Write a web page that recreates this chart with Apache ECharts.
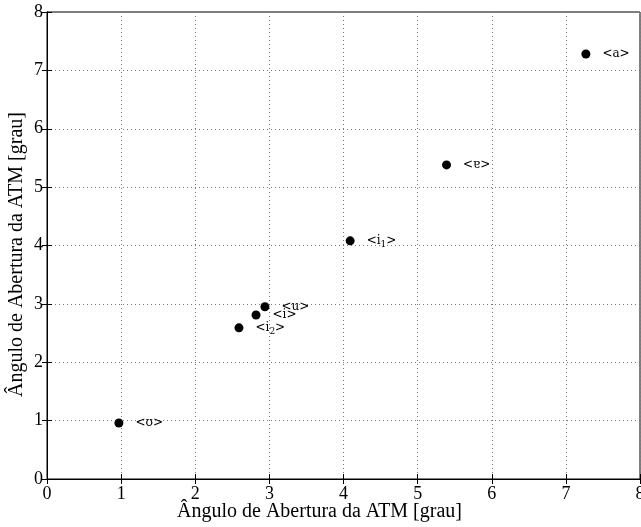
<!DOCTYPE html>
<html>
<head>
<meta charset="utf-8">
<script src="https://cdn.jsdelivr.net/npm/echarts@6/dist/echarts.min.js"></script>
<style>
  html, body { margin: 0; padding: 0; background: #fff; }
  #main { width: 641px; height: 527px; }
</style>
</head>
<body>
<div id="main"></div>
<script>
// vowel labels and their (x, y) opening angles
var vowels = ['<ʊ>', '<i{s|2}>', '<i>', '<u>', '<i{s|1}>', '<ɐ>', '<a>'];
var xVals  = [0.97, 2.59, 2.82, 2.94, 4.09, 5.39, 7.27];
var yVals  = [0.96, 2.59, 2.81, 2.95, 4.08, 5.38, 7.28];
var axisTicks = [0, 1, 2, 3, 4, 5, 6, 7, 8];

var points = vowels.map(function (v, i) {
    return { name: v, value: [xVals[i], yVals[i]] };
});

var serif = 'Liberation Serif';

var chart = echarts.init(document.getElementById('main'), null, { renderer: 'canvas' });

var lineBlack = { lineStyle: { color: '#000', width: 1 } };
var tickIn = { inside: true, length: 5, lineStyle: { color: '#000' } };

chart.setOption({
    backgroundColor: '#fff',
    animation: false,
    grid: {
        left: 47,
        right: 1,
        top: 12,
        bottom: 48,
        outerBoundsMode: 'none',
        containLabel: false,
        show: true,
        borderColor: '#000',
        borderWidth: 1
    },
    xAxis: [
        {
            type: 'value',
            min: axisTicks[0],
            max: axisTicks[axisTicks.length - 1],
            interval: 1,
            name: 'Ângulo de Abertura da ATM [grau]',
            nameLocation: 'middle',
            nameGap: 23,
            nameMoveOverlap: false,
            nameTextStyle: { fontFamily: serif, fontSize: 20, color: '#000', padding: [0, 48, 0, 0] },
            axisLine: lineBlack,
            axisTick: tickIn,
            axisLabel: { fontFamily: serif, fontSize: 18, color: '#000', margin: 6 },
            splitLine: { show: true, lineStyle: { color: '#777', type: [1, 3], width: 1 } }
        },
        {
            type: 'value',
            position: 'top',
            min: 0, max: 8, interval: 1,
            axisLine: lineBlack,
            axisTick: tickIn,
            axisLabel: { show: false },
            splitLine: { show: false }
        }
    ],
    yAxis: [
        {
            type: 'value',
            min: axisTicks[0],
            max: axisTicks[axisTicks.length - 1],
            interval: 1,
            name: 'Ângulo de Abertura da ATM [grau]',
            nameLocation: 'middle',
            nameGap: 20,
            nameMoveOverlap: false,
            nameTextStyle: { fontFamily: serif, fontSize: 20, color: '#000', padding: [0, 18, 0, 0] },
            axisLine: lineBlack,
            axisTick: tickIn,
            axisLabel: { fontFamily: serif, fontSize: 18, color: '#000', margin: 4 },
            splitLine: { show: true, lineStyle: { color: '#777', type: [1, 3], width: 1 } }
        },
        {
            type: 'value',
            position: 'right',
            min: 0, max: 8, interval: 1,
            axisLine: lineBlack,
            axisTick: tickIn,
            axisLabel: { show: false },
            splitLine: { show: false }
        }
    ],
    series: [
        {
            type: 'scatter',
            data: points,
            symbol: 'circle',
            symbolSize: 9,
            itemStyle: { color: '#000', opacity: 1 },
            label: {
                show: true,
                position: 'right',
                distance: 12,
                formatter: function (p) { return p.name; },
                fontFamily: 'DejaVu Serif',
                fontSize: 12,
                color: '#000',
                rich: {
                    s: { fontFamily: 'DejaVu Serif', fontSize: 9, color: '#000', padding: [7, 0, 0, 0] }
                }
            },
            emphasis: { disabled: true }
        }
    ]
});
</script>
</body>
</html>
